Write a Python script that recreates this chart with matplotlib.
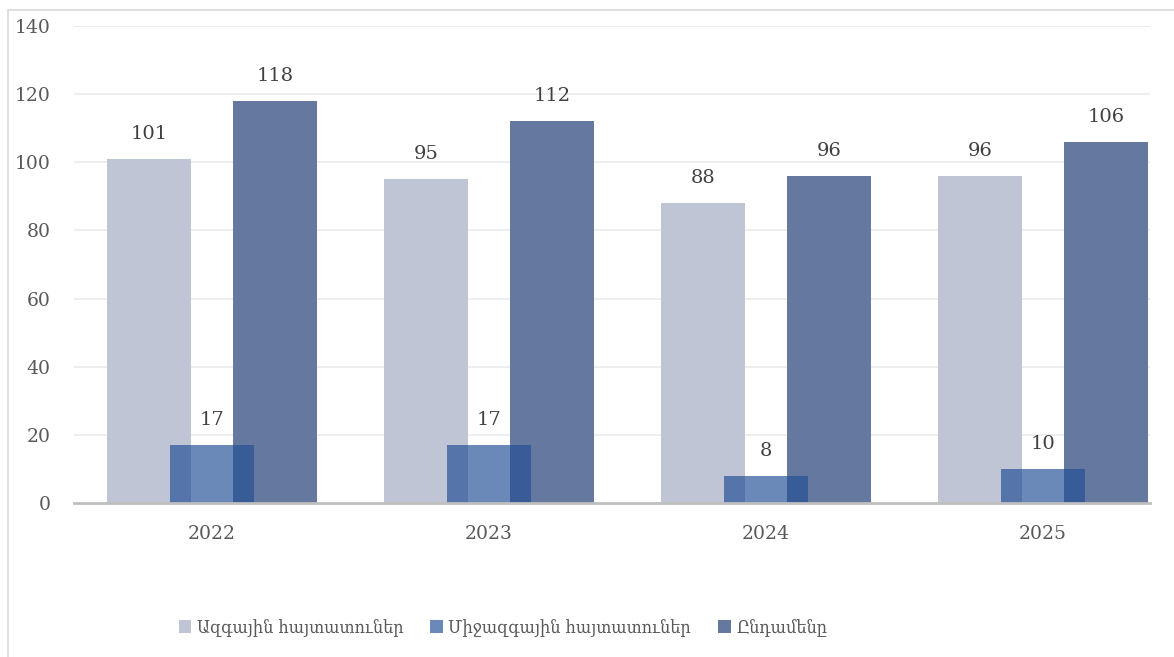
import matplotlib
matplotlib.use("Agg")
import matplotlib.pyplot as plt
import numpy as np
from matplotlib.patches import Rectangle
from matplotlib import font_manager

years = ["2022", "2023", "2024", "2025"]
national = [101, 95, 88, 96]
international = [17, 17, 8, 10]
total = [118, 112, 96, 106]
names = ["Ազգային հայտատուներ", "Միջազգային հայտատուներ", "Ընդամենը"]

plt.rcParams['font.family'] = ['DejaVu Serif']

fig = plt.figure(figsize=(11.74, 6.57), dpi=100)
ax = fig.add_axes([74/1174, 1-503/657, (1150-74)/1174, (503-26)/657])

# outer chart border (only left/top visible in the reference)
fig.patches.append(Rectangle((8/1174, -0.1), 1.2, 1-10/657+0.1, transform=fig.transFigure,
                             fill=False, edgecolor="#D9D9D9", lw=1.2, zorder=0))

x = np.arange(len(years))
w = 0.303
off = 0.227
c_light = "#BFC5D5"
c_dark = "#6579A0"
c_mid = (33/255, 78/255, 149/255, 0.67)

b1 = ax.bar(x - off, national, w, color=c_light, zorder=2, label=names[0])
b3 = ax.bar(x + off, total, w, color=c_dark, zorder=2, label=names[2])
b2 = ax.bar(x, international, w, color=c_mid, zorder=3, label=names[1])

for bars, vals in ((b1, national), (b2, international), (b3, total)):
    for r, v in zip(bars, vals):
        ax.annotate(str(v), (r.get_x() + r.get_width()/2, v), xytext=(0, 18),
                    textcoords="offset points", ha="center", va="center",
                    fontsize=14, color="#404040", zorder=5)

ax.set_ylim(0, 140)
ax.set_xlim(-0.498, 3.386)
ax.set_yticks(range(0, 141, 20))
ax.set_xticks(x)
ax.set_xticklabels(years)
ax.yaxis.grid(True, color="#EBEBEB", lw=1.2, zorder=0)
ax.set_axisbelow(True)
for s in ("top", "right", "left"):
    ax.spines[s].set_visible(False)
ax.spines["bottom"].set_color("#BFBFBF")
ax.spines["bottom"].set_linewidth(2)
ax.spines["bottom"].set_zorder(4)
ax.tick_params(axis="y", length=0, pad=17, labelsize=13.5, labelcolor="#595959")
ax.tick_params(axis="x", length=0, pad=16, labelsize=13.5, labelcolor="#595959")

handles = [b1, b2, b3]
leg = fig.legend(handles, names, loc="center", bbox_to_anchor=(503/1174, 1-628/657), ncol=3,
                 frameon=False, prop=font_manager.FontProperties(family="DejaVu Serif", size=13, stretch="condensed"),
                 handlelength=0.7, handleheight=0.7,
                 handletextpad=0.3, columnspacing=1.5)
for t in leg.get_texts():
    t.set_color("#595959")

fig.savefig("out.png", dpi=100)
